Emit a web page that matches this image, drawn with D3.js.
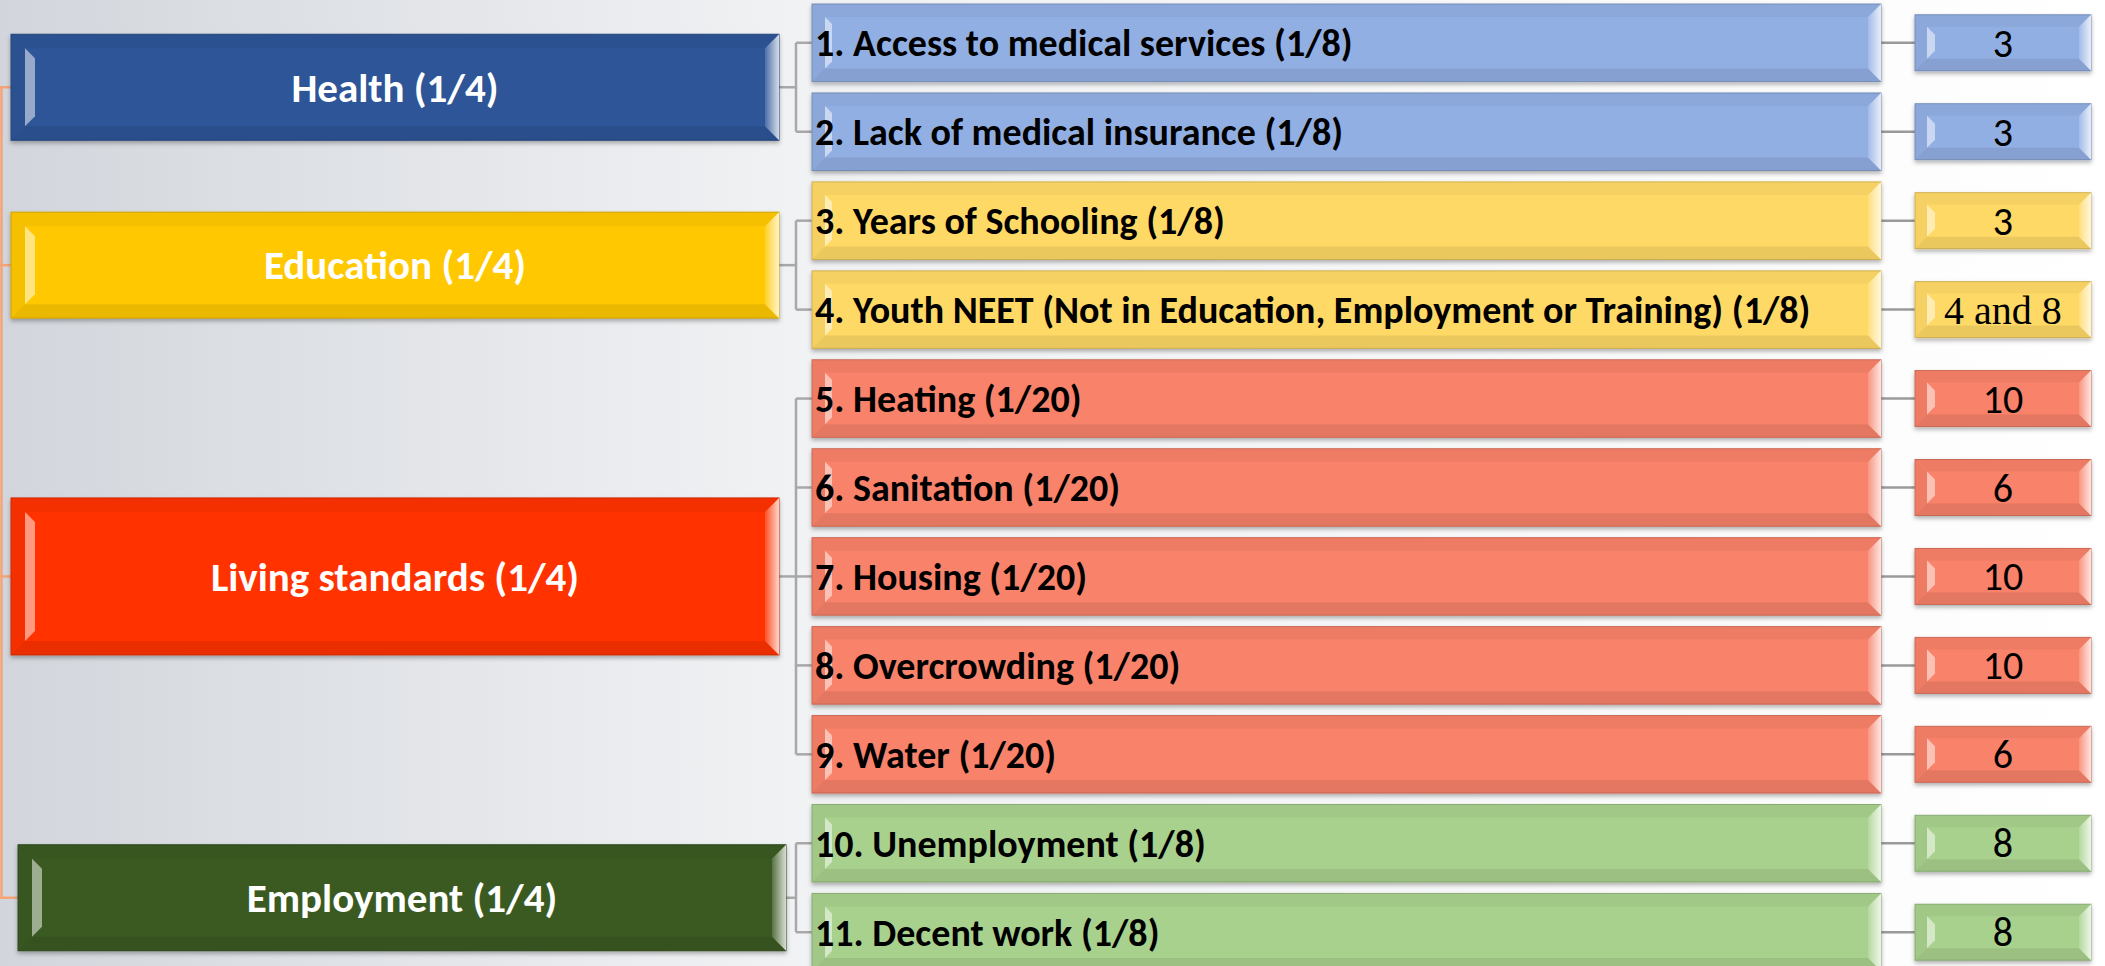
<!DOCTYPE html>
<html>
<head>
<meta charset="utf-8">
<script src="https://cdn.jsdelivr.net/npm/d3@7"></script>
<style>
  html, body { margin: 0; padding: 0; overflow: hidden; background: #fff; }
</style>
</head>
<body>
<div id="chart"></div>
<script>
// DIMENSIONS (weights in brackets)
var categories = ["Health (1/4)", "Education (1/4)", "Living standards (1/4)", "Employment (1/4)"];

var indicators = [
    "1. Access to medical services (1/8)",
    "2. Lack of medical insurance (1/8)",
    "3. Years of Schooling (1/8)",
    "4. Youth NEET (Not in Education, Employment or Training) (1/8)",
    "5. Heating (1/20)",
    "6. Sanitation (1/20)",
    "7. Housing (1/20)",
    "8. Overcrowding (1/20)",
    "9. Water (1/20)",
    "10. Unemployment (1/8)",
    "11. Decent work (1/8)"
];

// WHICH DIMENSION EACH INDICATOR BELONGS TO
var indicatorGroup = [0, 0, 1, 1, 2, 2, 2, 2, 2, 3, 3];

// SDG NUMBERS ON THE RIGHT
var sdgValues = ["3", "3", "3", "4 and 8", "10", "6", "10", "10", "6", "8", "8"];

var mainColors = ["#2F5597", "#FFC800", "#FF3300", "#3B5A24"];
var subColors = ["#92AFE3", "#FFD966", "#F8826A", "#A9D18E"];

var width = 2105, height = 966;

var svg = d3.select("#chart")
    .append("svg")
    .attr("width", width)
    .attr("height", height);

var defs = svg.append("defs");

// BACKGROUND GRADIENT
var bg = defs.append("linearGradient").attr("id", "bg").attr("x1", "0").attr("x2", "1").attr("y1", "0").attr("y2", "0");
bg.append("stop").attr("offset", "0%").attr("stop-color", "#d2d6dc");
bg.append("stop").attr("offset", "38%").attr("stop-color", "#f1f2f4");
bg.append("stop").attr("offset", "100%").attr("stop-color", "#ffffff");

var rightFace = defs.append("linearGradient").attr("id", "rightFace").attr("x1", "0").attr("x2", "1");
rightFace.append("stop").attr("offset", "0%").attr("stop-color", "#fff").attr("stop-opacity", 0.15);
rightFace.append("stop").attr("offset", "100%").attr("stop-color", "#fff").attr("stop-opacity", 0.8);

var shadow = defs.append("filter").attr("id", "shadow")
    .attr("x", "-5%").attr("y", "-10%").attr("width", "110%").attr("height", "130%");
shadow.append("feDropShadow")
    .attr("dx", 0).attr("dy", 2.5)
    .attr("stdDeviation", 2)
    .attr("flood-color", "#000")
    .attr("flood-opacity", 0.3);

svg.append("rect")
    .attr("width", width)
    .attr("height", height)
    .attr("fill", "url(#bg)");

// LAYOUT
var mainX0 = 11, mainX1 = 779;
var bracketX = 796;
var subX0 = 812, subX1 = 1881;
var valX0 = 1915, valX1 = 2091, valH = 56;
var mainNudge = [[0, 0], [0, 0], [0, 0], [7, 10]];   // last box sits a bit off in the original

var y = d3.scaleBand()
    .domain(d3.range(indicators.length))
    .range([4, 971])
    .paddingInner(0.128)
    .paddingOuter(0);

function cy(i) { return y(i) + y.bandwidth() / 2; }

var groups = categories.map(function (c, k) {
    var kids = d3.range(indicators.length).filter(function (i) { return indicatorGroup[i] === k; });
    var mid = (cy(kids[0]) + cy(kids[kids.length - 1])) / 2 + mainNudge[k][1];
    var h = 72 + 17 * kids.length;
    return { name: c, k: k, kids: kids, cy: mid, h: h, dx: mainNudge[k][0] };
});

// BEVELLED BOX
function bevelBox(g, x, yy, w, h, color, b, hl) {
    var box = g.append("g");
    box.append("rect")
        .attr("x", x).attr("y", yy).attr("width", w).attr("height", h)
        .attr("fill", color)
        .attr("stroke", d3.color(color).darker(0.5))
        .attr("stroke-width", 1)
        .attr("filter", "url(#shadow)");
    // top face
    box.append("polygon")
        .attr("points", [[x, yy], [x + w, yy], [x + w - b, yy + b], [x + b, yy + b]].join(" "))
        .attr("fill", "#000").attr("fill-opacity", 0.04);
    // bottom face
    box.append("polygon")
        .attr("points", [[x, yy + h], [x + w, yy + h], [x + w - b, yy + h - b], [x + b, yy + h - b]].join(" "))
        .attr("fill", "#000").attr("fill-opacity", 0.08);
    // left face
    box.append("polygon")
        .attr("points", [[x, yy], [x + b, yy + b], [x + b, yy + h - b], [x, yy + h]].join(" "))
        .attr("fill", "#000").attr("fill-opacity", 0.04);
    // right face
    box.append("polygon")
        .attr("points", [[x + w, yy], [x + w, yy + h], [x + w - b, yy + h - b], [x + w - b, yy + b]].join(" "))
        .attr("fill", "url(#rightFace)");
    // left highlight chevron
    box.append("polygon")
        .attr("points", [[x + b, yy + b], [x + b + hl, yy + b + hl], [x + b + hl, yy + h - b - hl], [x + b, yy + h - b]].join(" "))
        .attr("fill", "#fff").attr("fill-opacity", 0.5);
    return box;
}

// ROOT CONNECTOR (ORANGE)
var root = svg.append("g")
    .attr("fill", "none")
    .attr("stroke", "#F4A478")
    .attr("stroke-width", 2.5);

root.append("line")
    .attr("x1", 1.5).attr("x2", 1.5)
    .attr("y1", groups[0].cy)
    .attr("y2", groups[groups.length - 1].cy);

root.selectAll(".stub")
    .data(groups)
    .enter()
    .append("line")
    .attr("x1", 0)
    .attr("x2", function (d) { return mainX0 + d.dx })
    .attr("y1", function (d) { return d.cy })
    .attr("y2", function (d) { return d.cy });

// GRAY CONNECTORS
var links = svg.append("g")
    .attr("stroke", "#a8a8a8")
    .attr("stroke-width", 2.5)
    .attr("fill", "none");

groups.forEach(function (d) {
    links.append("line")
        .attr("x1", mainX1).attr("x2", bracketX)
        .attr("y1", d.cy).attr("y2", d.cy);
    links.append("line")
        .attr("x1", bracketX).attr("x2", bracketX)
        .attr("y1", cy(d.kids[0])).attr("y2", cy(d.kids[d.kids.length - 1]));
    d.kids.forEach(function (i) {
        links.append("line")
            .attr("x1", bracketX).attr("x2", subX0)
            .attr("y1", cy(i)).attr("y2", cy(i));
    });
});

indicators.forEach(function (t, i) {
    links.append("line")
        .attr("x1", subX1).attr("x2", valX0)
        .attr("y1", cy(i)).attr("y2", cy(i))
        .attr("stroke", "#9a9a9a");
});

// MAIN BOXES
var mainG = svg.append("g");
groups.forEach(function (d) {
    var top = d.cy - d.h / 2;
    bevelBox(mainG, mainX0 + d.dx, top, mainX1 - mainX0, d.h, mainColors[d.k], 14, 10);
    mainG.append("text")
        .attr("x", (mainX0 + mainX1) / 2 + d.dx)
        .attr("y", d.cy)
        .attr("dy", "0.35em")
        .attr("text-anchor", "middle")
        .attr("fill", "#fff")
        .attr("font-family", "Carlito, Lato, 'Open Sans', sans-serif")
        .attr("font-weight", "bold")
        .attr("font-size", "41px")
        .text(d.name);
});

// INDICATOR BOXES
var subG = svg.append("g");
indicators.forEach(function (t, i) {
    bevelBox(subG, subX0, y(i), subX1 - subX0, y.bandwidth(), subColors[indicatorGroup[i]], 13, 7);
    subG.append("text")
        .attr("x", subX0 + 3)
        .attr("y", cy(i))
        .attr("dy", "0.35em")
        .attr("fill", "#000")
        .attr("font-family", "Carlito, Lato, 'Open Sans', sans-serif")
        .attr("font-weight", "bold")
        .attr("font-size", "38px")
        .text(t);
});

// SDG VALUE BOXES
var valG = svg.append("g");
sdgValues.forEach(function (v, i) {
    bevelBox(valG, valX0, cy(i) - valH / 2, valX1 - valX0, valH, subColors[indicatorGroup[i]], 12, 8);
    var serif = /[a-z]/.test(v);
    valG.append("text")
        .attr("x", (valX0 + valX1) / 2)
        .attr("y", cy(i))
        .attr("dy", "0.35em")
        .attr("text-anchor", "middle")
        .attr("fill", "#000")
        .attr("font-family", serif ? "'Liberation Serif', 'DejaVu Serif', serif" : "Carlito, Lato, sans-serif")
        .attr("font-size", serif ? "40px" : "40px")
        .text(v);
});
</script>
</body>
</html>
